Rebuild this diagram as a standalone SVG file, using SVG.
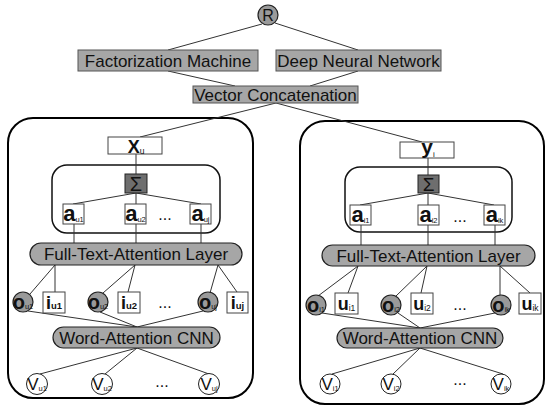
<svg xmlns="http://www.w3.org/2000/svg" width="550" height="411" viewBox="0 0 550 411">
<style>
text{font-family:"Liberation Sans",Arial,sans-serif;fill:#111;text-anchor:middle}
.lbl{font-size:17px}
.gbox{fill:#a6a6a6;stroke:#555;stroke-width:1}
.panel{fill:none;stroke:#000;stroke-width:2}
.attn{fill:none;stroke:#111;stroke-width:1.5}
.wbox{fill:#fff;stroke:#444;stroke-width:1}
.pill{fill:#a6a6a6;stroke:#222;stroke-width:1.2}
.ocirc{fill:#9a9a9a;stroke:#222;stroke-width:1.2}
.vcirc{fill:#fff;stroke:#222;stroke-width:1}
.sig{fill:#6e6e6e;stroke:#222;stroke-width:1}
.big{font-size:22px;font-weight:bold}
.obig{font-size:20px;font-weight:bold}
.mid{font-size:18px;font-weight:bold}
.sub{font-size:7.5px;font-weight:normal}
.dots{font-size:16px}
#connectors line{stroke:#333;stroke-width:1}
</style>
<rect width="550" height="411" fill="#fff"/>
<g id="panels">
<rect class="panel" x="8" y="118" width="245" height="280" rx="25"/>
<rect class="panel" x="300" y="121" width="244" height="283" rx="25"/>
<rect class="attn" x="52" y="165" width="168" height="68" rx="15"/>
<rect class="attn" x="345" y="167" width="167" height="65" rx="15"/>
</g>
<g id="connectors">
<line x1="262" y1="24" x2="168" y2="50"/>
<line x1="275" y1="23" x2="358" y2="50"/>
<line x1="168" y1="71" x2="235" y2="86"/>
<line x1="358" y1="71" x2="310" y2="86"/>
<line x1="276" y1="103" x2="140" y2="137"/>
<line x1="276" y1="103" x2="422" y2="142"/>
<line x1="136" y1="154" x2="136" y2="174"/>
<line x1="136" y1="193" x2="73" y2="204"/>
<line x1="136" y1="193" x2="136" y2="204"/>
<line x1="136" y1="193" x2="201" y2="204"/>
<line x1="74" y1="224" x2="74" y2="243"/>
<line x1="136" y1="224" x2="136" y2="243"/>
<line x1="201" y1="224" x2="201" y2="243"/>
<line x1="55" y1="265" x2="30" y2="294"/>
<line x1="55" y1="265" x2="55" y2="292"/>
<line x1="135" y1="265" x2="103" y2="293"/>
<line x1="135" y1="265" x2="128" y2="292"/>
<line x1="218" y1="265" x2="210" y2="293"/>
<line x1="218" y1="265" x2="237" y2="292"/>
<line x1="28" y1="311" x2="137" y2="327"/>
<line x1="100" y1="312" x2="137" y2="327"/>
<line x1="203" y1="311" x2="137" y2="327"/>
<line x1="137" y1="348" x2="40" y2="374"/>
<line x1="137" y1="348" x2="105" y2="374"/>
<line x1="137" y1="348" x2="209" y2="374"/>
<line x1="428" y1="158" x2="428" y2="175"/>
<line x1="428" y1="193" x2="360" y2="205"/>
<line x1="428" y1="193" x2="428" y2="205"/>
<line x1="428" y1="193" x2="494" y2="205"/>
<line x1="361" y1="225" x2="361" y2="245"/>
<line x1="428" y1="225" x2="428" y2="245"/>
<line x1="495" y1="225" x2="495" y2="245"/>
<line x1="358" y1="266" x2="318" y2="296"/>
<line x1="358" y1="266" x2="348" y2="293"/>
<line x1="427" y1="266" x2="396" y2="296"/>
<line x1="427" y1="266" x2="421" y2="293"/>
<line x1="500" y1="266" x2="500" y2="295"/>
<line x1="500" y1="266" x2="530" y2="293"/>
<line x1="322" y1="313" x2="420" y2="328"/>
<line x1="398" y1="313" x2="420" y2="328"/>
<line x1="495" y1="313" x2="420" y2="328"/>
<line x1="420" y1="348" x2="332" y2="374"/>
<line x1="420" y1="348" x2="393" y2="374"/>
<line x1="420" y1="348" x2="503" y2="374"/>
</g>
<g id="R"><circle cx="268" cy="15" r="10" class="ocirc" fill="#a0a0a0"/><text x="268" y="21" font-size="16">R</text></g>
<g id="fm"><rect class="gbox" x="78" y="50" width="180" height="21"/><text class="lbl" x="168" y="67">Factorization Machine</text></g>
<g id="dnn"><rect class="gbox" x="276" y="50" width="165" height="21"/><text class="lbl" x="358.5" y="67">Deep Neural Network</text></g>
<g id="vc"><rect class="gbox" x="193" y="86" width="165" height="17"/><text class="lbl" x="275.5" y="101">Vector Concatenation</text></g>
<g id="xu"><rect class="wbox" x="108" y="137" width="54" height="17"/><text x="136" y="153"><tspan font-size="18px" font-weight="bold">X</tspan><tspan font-size="8.5px" dy="1">u</tspan></text></g>
<g id="sigma-u"><rect class="sig" x="125" y="174" width="22" height="19"/><text x="136" y="190.5" font-family="Liberation Serif,serif" font-size="20px">Σ</text></g>
<g id="au1"><rect class="wbox" x="63" y="204" width="21" height="20"/><text x="73.5" y="221"><tspan class="big">a</tspan><tspan class="sub" dy="1">u1</tspan></text></g>
<g id="au2"><rect class="wbox" x="125" y="204" width="21" height="20"/><text x="135.5" y="221"><tspan class="big">a</tspan><tspan class="sub" dy="1">u2</tspan></text></g>
<text class="dots" x="165" y="220">...</text>
<g id="auj"><rect class="wbox" x="190" y="204" width="21" height="20"/><text x="200.5" y="221"><tspan class="big">a</tspan><tspan class="sub" dy="1">uj</tspan></text></g>
<g id="fta-u"><rect class="pill" x="30" y="243" width="212" height="22" rx="11"/><text class="lbl" x="136" y="260">Full-Text-Attention Layer</text></g>
<g id="ou1"><circle class="ocirc" cx="23" cy="302" r="10"/><text x="23" y="309"><tspan class="obig">o</tspan><tspan class="sub">u1</tspan></text></g>
<g id="iu1"><rect class="wbox" x="43" y="292" width="22" height="21"/><text x="54" y="309"><tspan class="mid">i</tspan><tspan font-size="9.5px" font-weight="bold">u1</tspan></text></g>
<g id="ou2"><circle class="ocirc" cx="98" cy="302" r="10"/><text x="98" y="309"><tspan class="obig">o</tspan><tspan class="sub">u2</tspan></text></g>
<g id="iu2"><rect class="wbox" x="118" y="292" width="22" height="21"/><text x="129" y="309"><tspan class="mid">i</tspan><tspan font-size="9.5px" font-weight="bold">u2</tspan></text></g>
<text class="dots" x="165" y="308">...</text>
<g id="ouj"><circle class="ocirc" cx="208" cy="302" r="10"/><text x="208" y="309"><tspan class="obig">o</tspan><tspan class="sub">uj</tspan></text></g>
<g id="iuj"><rect class="wbox" x="227" y="292" width="21" height="21"/><text x="237.5" y="309"><tspan class="mid">i</tspan><tspan font-size="9.5px" font-weight="bold">uj</tspan></text></g>
<g id="wa-u"><rect class="pill" x="53" y="327" width="167" height="21" rx="10.5"/><text class="lbl" x="136.5" y="344">Word-Attention CNN</text></g>
<g id="vu1"><circle class="vcirc" cx="37" cy="384" r="10.5"/><text x="37" y="390"><tspan font-size="17px">V</tspan><tspan class="sub" dy="1">u1</tspan></text></g>
<g id="vu2"><circle class="vcirc" cx="102" cy="384" r="10.5"/><text x="102" y="390"><tspan font-size="17px">V</tspan><tspan class="sub" dy="1">u2</tspan></text></g>
<text class="dots" x="162" y="387">...</text>
<g id="vuj"><circle class="vcirc" cx="209" cy="384" r="10.5"/><text x="209" y="390"><tspan font-size="17px">V</tspan><tspan class="sub" dy="1">uj</tspan></text></g>
<g id="yi"><rect class="wbox" x="400" y="142" width="54" height="16"/><text x="428" y="154"><tspan font-size="21px" font-weight="bold">y</tspan><tspan font-size="8px" dy="3">i</tspan></text></g>
<g id="sigma-i"><rect class="sig" x="418" y="175" width="21" height="18"/><text x="428.5" y="190.5" font-family="Liberation Serif,serif" font-size="19px">Σ</text></g>
<g id="ai1"><rect class="wbox" x="350" y="205" width="21" height="20"/><text x="360.5" y="222"><tspan class="big">a</tspan><tspan class="sub" dy="1">i1</tspan></text></g>
<g id="ai2"><rect class="wbox" x="418" y="205" width="21" height="20"/><text x="428.5" y="222"><tspan class="big">a</tspan><tspan class="sub" dy="1">i2</tspan></text></g>
<text class="dots" x="460" y="222">...</text>
<g id="aik"><rect class="wbox" x="484" y="205" width="21" height="20"/><text x="494.5" y="222"><tspan class="big">a</tspan><tspan class="sub" dy="1">ik</tspan></text></g>
<g id="fta-i"><rect class="pill" x="322" y="245" width="213" height="21" rx="10.5"/><text class="lbl" x="428.5" y="262">Full-Text-Attention Layer</text></g>
<g id="oi1"><circle class="ocirc" cx="316" cy="305" r="10"/><text x="316" y="312"><tspan class="obig">o</tspan><tspan class="sub">i1</tspan></text></g>
<g id="ui1"><rect class="wbox" x="335" y="293" width="23" height="21"/><text x="346.5" y="310"><tspan class="mid">u</tspan><tspan font-size="8.5px" dy="1">i1</tspan></text></g>
<g id="oi2"><circle class="ocirc" cx="391" cy="305" r="10"/><text x="391" y="312"><tspan class="obig">o</tspan><tspan class="sub">i2</tspan></text></g>
<g id="ui2"><rect class="wbox" x="411" y="293" width="22" height="21"/><text x="422" y="310"><tspan class="mid">u</tspan><tspan font-size="8.5px" dy="1">i2</tspan></text></g>
<text class="dots" x="460" y="310">...</text>
<g id="oik"><circle class="ocirc" cx="501" cy="305" r="10"/><text x="501" y="312"><tspan class="obig">o</tspan><tspan class="sub">ik</tspan></text></g>
<g id="uik"><rect class="wbox" x="519" y="293" width="22" height="21"/><text x="530" y="310"><tspan class="mid">u</tspan><tspan font-size="8.5px" dy="1">ik</tspan></text></g>
<g id="wa-i"><rect class="pill" x="337" y="328" width="166" height="20" rx="10"/><text class="lbl" x="420" y="344">Word-Attention CNN</text></g>
<g id="vi1"><circle class="vcirc" cx="330" cy="384" r="10"/><text x="330" y="390"><tspan font-size="17px">V</tspan><tspan class="sub" dy="1">i1</tspan></text></g>
<g id="vi2"><circle class="vcirc" cx="391" cy="384" r="10"/><text x="391" y="390"><tspan font-size="17px">V</tspan><tspan class="sub" dy="1">i2</tspan></text></g>
<text class="dots" x="460" y="385">...</text>
<g id="vik"><circle class="vcirc" cx="501" cy="384" r="10"/><text x="501" y="390"><tspan font-size="17px">V</tspan><tspan class="sub" dy="1">ik</tspan></text></g>
</svg>
